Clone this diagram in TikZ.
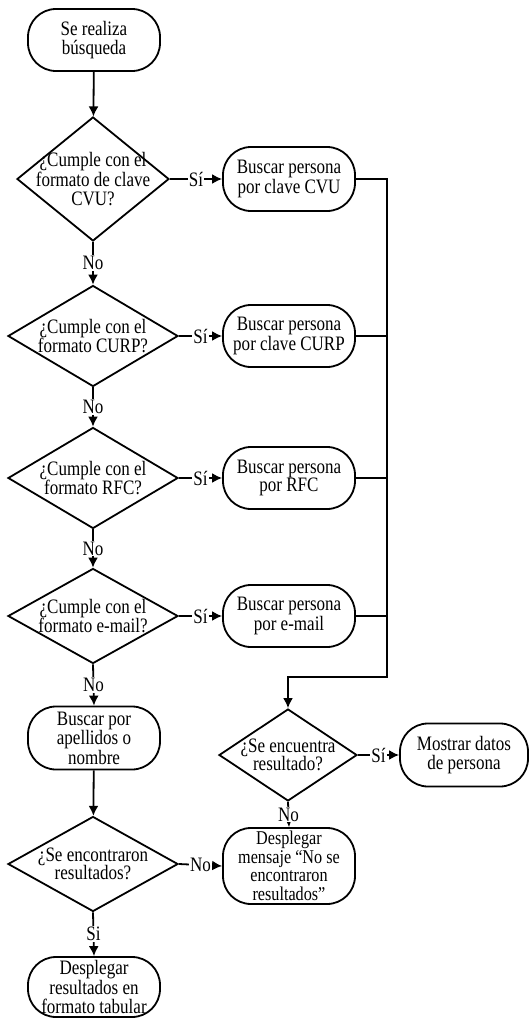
\documentclass[tikz,border=0pt]{standalone}
\usepackage{fontspec}
\setmainfont{Liberation Serif}[FakeStretch=0.83]
\usetikzlibrary{shapes.geometric,arrows.meta}
\begin{document}
\begin{tikzpicture}[x=1pt,y=-1pt,
  every node/.style={font=\fontsize{20.5}{18.5}\selectfont},
  term/.style={draw, line width=1.8pt, rounded corners=28pt, align=center, inner sep=0pt, minimum width=132pt, minimum height=62pt},
  dec/.style={draw, diamond, line width=1.8pt, inner sep=0pt},
  conn/.style={line width=1.8pt, -{Latex[length=10pt,width=10pt]}},
  plain/.style={line width=1.8pt},
  lbl/.style={fill=white, inner sep=1pt}
]
\useasboundingbox (0,0) rectangle (530,1018);

% left column
\node[term] (start) at (94,40) {Se realiza\\búsqueda};
\node[dec, minimum width=152pt, minimum height=124pt,
  label={[align=center]center:¿Cumple con el\\formato de clave\\CVU?}] (d1) at (93,179) {};
\node[dec, minimum width=170pt, minimum height=101pt,
  label={[align=center]center:¿Cumple con el\\formato CURP?}] (d2) at (93,336) {};
\node[dec, minimum width=170pt, minimum height=101pt,
  label={[align=center]center:¿Cumple con el\\formato RFC?}] (d3) at (93,478) {};
\node[dec, minimum width=170pt, minimum height=95pt,
  label={[align=center]center:¿Cumple con el\\formato e-mail?}] (d4) at (93,616) {};
\node[term, minimum height=63pt] (ap) at (94,738) {Buscar por\\apellidos o\\nombre};
\node[dec, minimum width=170pt, minimum height=95pt,
  label={[align=center]center:¿Se encontraron\\resultados?}] (d6) at (93,864) {};
\node[term, minimum height=60pt] (tab) at (94,987) {Desplegar\\resultados en\\formato tabular};

% right column
\node[term, minimum height=64pt] (b1) at (289,179) {Buscar persona\\por clave CVU};
\node[term] (b2) at (289,336) {Buscar persona\\por clave CURP};
\node[term] (b3) at (289,478) {Buscar persona\\por RFC};
\node[term] (b4) at (289,616) {Buscar persona\\por e-mail};
\node[dec, minimum width=138pt, minimum height=92pt,
  label={[align=center]center:¿Se encuentra\\resultado?}] (d5) at (288,755) {};
\node[term, minimum height=76pt, font=\fontsize{19.5}{18.5}\selectfont] (msg) at (289,866) {Desplegar\\mensaje “No se\\encontraron\\resultados”};

\node[term, minimum width=128pt, minimum height=63pt] (most) at (464,755) {Mostrar datos\\de persona};

\coordinate (bus) at (387,677);

% connectors
\draw[conn] (start) -- (d1);
\draw[conn] (d1.east) -- node[lbl]{Sí} (b1.west);
\draw[conn] (d1.south) -- node[lbl]{No} (d2.north);
\draw[conn] (d2.east) -- node[lbl]{Sí} (b2.west);
\draw[conn] (d2.south) -- node[lbl]{No} (d3.north);
\draw[conn] (d3.east) -- node[lbl]{Sí} (b3.west);
\draw[conn] (d3.south) -- node[lbl]{No} (d4.north);
\draw[conn] (d4.east) -- node[lbl]{Sí} (b4.west);
\draw[conn] (d4.south) -- node[lbl]{No} (ap.north);
\draw[conn] (ap) -- (d6);
\draw[conn] (d6.east) -- node[lbl]{No} (msg.west);
\draw[conn] (d6.south) -- node[lbl]{Si} (tab.north);

\draw[conn] (b1.east) -| (bus) -| (d5.north);
\draw[plain] (b2.east) -- (b2.east -| bus);
\draw[plain] (b3.east) -- (b3.east -| bus);
\draw[plain] (b4.east) -- (b4.east -| bus);

\draw[conn] (d5.east) -- node[lbl]{Sí} (most.west);
\draw[conn] (d5.south) -- node[lbl]{No} (msg.north);
\end{tikzpicture}
\end{document}
